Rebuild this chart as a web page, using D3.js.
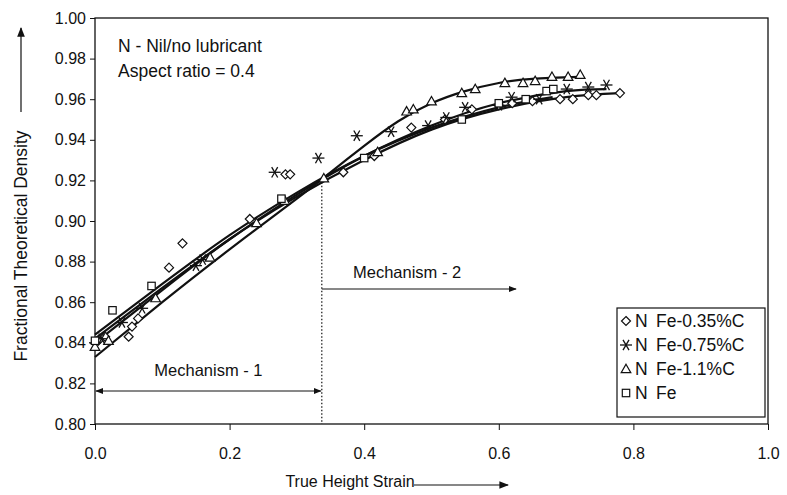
<!DOCTYPE html>
<html><head><meta charset="utf-8">
<script src="https://cdn.jsdelivr.net/npm/d3@7"></script>
<style>body{margin:0;background:#fff}svg{display:block}text{font-family:"Liberation Sans",Arial,sans-serif;fill:#111}</style>
</head><body>
<svg id="c" width="787" height="495"></svg>
<script>
const xTicks=[0,0.2,0.4,0.6,0.8,1.0];
const yTicks=[0.80,0.82,0.84,0.86,0.88,0.90,0.92,0.94,0.96,0.98,1.00];
const seriesTags=["N","N","N","N"];
const seriesNames=["Fe-0.35%C","Fe-0.75%C","Fe-1.1%C","Fe"];
const seriesSymbols=["diamond","asterisk","triangle","square"];
const ptsFe035=[[0.005,0.841],[0.015,0.843],[0.05,0.843],[0.055,0.848],[0.064,0.852],[0.11,0.877],[0.13,0.889],[0.23,0.901],[0.283,0.923],[0.29,0.923],[0.369,0.924],[0.415,0.932],[0.47,0.946],[0.52,0.950],[0.56,0.955],[0.60,0.957],[0.62,0.958],[0.65,0.959],[0.691,0.960],[0.71,0.960],[0.733,0.962],[0.745,0.962],[0.78,0.963]];
const ptsFe075=[[0.0,0.840],[0.01,0.842],[0.04,0.850],[0.07,0.857],[0.15,0.878],[0.16,0.881],[0.267,0.924],[0.332,0.931],[0.389,0.942],[0.44,0.944],[0.495,0.947],[0.522,0.951],[0.550,0.956],[0.60,0.957],[0.619,0.961],[0.66,0.960],[0.701,0.965],[0.733,0.966],[0.760,0.967]];
const ptsFe11=[[0.0,0.838],[0.02,0.841],[0.09,0.862],[0.171,0.882],[0.24,0.899],[0.282,0.910],[0.34,0.921],[0.42,0.934],[0.463,0.954],[0.473,0.955],[0.50,0.959],[0.545,0.963],[0.565,0.965],[0.609,0.968],[0.636,0.968],[0.654,0.969],[0.679,0.971],[0.703,0.971],[0.721,0.972]];
const ptsFe=[[0.0,0.841],[0.026,0.856],[0.084,0.868],[0.277,0.911],[0.40,0.931],[0.545,0.950],[0.60,0.958],[0.64,0.960],[0.671,0.964],[0.681,0.965]];
const fitFe035=[[0,0.842],[0.1,0.867],[0.2,0.891],[0.3,0.912],[0.4,0.930],[0.5,0.945],[0.6,0.955],[0.7,0.961],[0.78,0.963]];
const fitFe075=[[0,0.840],[0.1,0.866],[0.2,0.891],[0.3,0.913],[0.4,0.932],[0.5,0.947],[0.6,0.958],[0.7,0.964],[0.76,0.965]];
const fitFe11=[[0,0.833],[0.1,0.860],[0.2,0.886],[0.3,0.911],[0.35,0.924],[0.4,0.937],[0.45,0.949],[0.5,0.958],[0.55,0.964],[0.6,0.968],[0.65,0.970],[0.72,0.971]];
const fitFe=[[0,0.844],[0.1,0.869],[0.2,0.893],[0.3,0.914],[0.4,0.932],[0.5,0.946],[0.6,0.956],[0.68,0.961]];
const mechBoundary=0.337;

const svg=d3.select("#c");
const x=d3.scaleLinear().domain([0,1]).range([95,768]);
const y=d3.scaleLinear().domain([0.8,1.0]).range([424,18]);

svg.append("rect").attr("x",x(0)).attr("y",y(1)).attr("width",x(1)-x(0)).attr("height",y(0.8)-y(1))
  .attr("fill","none").attr("stroke","#111").attr("stroke-width",1.3);

const ya=svg.append("g").attr("transform",`translate(${x(0)},0)`)
  .call(d3.axisLeft(y).tickValues(yTicks).tickSize(5).tickPadding(4).tickFormat(d3.format(".2f")));
const xa=svg.append("g").attr("transform",`translate(0,${y(0.8)})`)
  .call(d3.axisBottom(x).tickValues(xTicks).tickSize(6).tickPadding(18).tickFormat(d3.format(".1f")));
[ya,xa].forEach(g=>{g.select(".domain").remove();g.selectAll("line").attr("stroke","#111");
  g.selectAll("text").style("font-size","16px").attr("fill","#111").style("font-family","Liberation Sans, Arial");});

const line=d3.line().x(d=>x(d[0])).y(d=>y(d[1])).curve(d3.curveNatural);
[fitFe035,fitFe075,fitFe11,fitFe].forEach(f=>{
  svg.append("path").attr("d",line(f)).attr("fill","none").attr("stroke","#111").attr("stroke-width",2.2);
});

function sym(g,type,cx,cy){
  const s=g.append("g").attr("transform",`translate(${cx},${cy})`);
  if(type==="diamond") s.append("path").attr("d","M0,-4.5L4.5,0L0,4.5L-4.5,0Z").attr("fill","#fff").attr("stroke","#111").attr("stroke-width",1.2);
  else if(type==="square") s.append("rect").attr("x",-3.7).attr("y",-3.7).attr("width",7.4).attr("height",7.4).attr("fill","#fff").attr("stroke","#111").attr("stroke-width",1.2);
  else if(type==="triangle") s.append("path").attr("d","M0,-4.8L4.8,3.6L-4.8,3.6Z").attr("fill","#fff").attr("stroke","#111").attr("stroke-width",1.2);
  else { [0,60,120].forEach(a=>{const r=a*Math.PI/180; s.append("line").attr("x1",-6*Math.cos(r)).attr("y1",-6*Math.sin(r)).attr("x2",6*Math.cos(r)).attr("y2",6*Math.sin(r)).attr("stroke","#111").attr("stroke-width",1.3);}); }
}
const allPts=[ptsFe035,ptsFe075,ptsFe11,ptsFe];
allPts.forEach((pts,i)=>{const g=svg.append("g");pts.forEach(p=>sym(g,seriesSymbols[i],x(p[0]),y(p[1])));});

svg.append("line").attr("x1",x(mechBoundary)).attr("x2",x(mechBoundary)).attr("y1",y(0.921)+4).attr("y2",y(0.8))
  .attr("stroke","#111").attr("stroke-width",1.2).attr("stroke-dasharray","1.5,2");

const defs=svg.append("defs");
defs.append("marker").attr("id","ah").attr("viewBox","0 0 10 10").attr("refX",9).attr("refY",5).attr("markerWidth",8).attr("markerHeight",8).attr("orient","auto-start-reverse")
  .append("path").attr("d","M0,1L10,5L0,9Z").attr("fill","#111");

svg.append("line").attr("x1",x(0)+1).attr("x2",x(mechBoundary)-1).attr("y1",391).attr("y2",391).attr("stroke","#111").attr("stroke-width",1)
  .attr("marker-start","url(#ah)").attr("marker-end","url(#ah)");
svg.append("text").attr("x",(x(0)+x(mechBoundary))/2).attr("y",376).attr("text-anchor","middle").style("font-size","16.5px").text("Mechanism - 1");
svg.append("line").attr("x1",x(mechBoundary)).attr("x2",516).attr("y1",289).attr("y2",289).attr("stroke","#111").attr("stroke-width",1)
  .attr("marker-end","url(#ah)");
svg.append("text").attr("x",353).attr("y",278).style("font-size","16.5px").text("Mechanism - 2");

svg.append("text").attr("x",118).attr("y",52).style("font-size","17.5px").text("N - Nil/no lubricant");
svg.append("text").attr("x",118).attr("y",77).style("font-size","17.5px").text("Aspect ratio = 0.4");

svg.append("text").attr("x",350).attr("y",487).attr("text-anchor","middle").style("font-size","16px").text("True Height Strain");
svg.append("line").attr("x1",414).attr("x2",508).attr("y1",485).attr("y2",485).attr("stroke","#111").attr("stroke-width",1.2).attr("marker-end","url(#ah)");
svg.append("text").attr("transform","translate(27,246) rotate(-90)").attr("text-anchor","middle").style("font-size","17.5px").text("Fractional Theoretical Density");
svg.append("line").attr("x1",21).attr("x2",21).attr("y1",112).attr("y2",28).attr("stroke","#111").attr("stroke-width",1.2).attr("marker-end","url(#ah)");

const lg=svg.append("g");
lg.append("rect").attr("x",617).attr("y",308).attr("width",148).attr("height",109).attr("fill","#fff").attr("stroke","#111").attr("stroke-width",1.2);
seriesNames.forEach((n,i)=>{const cy=321+i*24; sym(lg,seriesSymbols[i],626,cy);
  lg.append("text").attr("x",635).attr("y",cy+6).style("font-size","17.5px").text(seriesTags[i]);
  lg.append("text").attr("x",656).attr("y",cy+6).style("font-size","17.5px").text(n);});
</script>
</body></html>
